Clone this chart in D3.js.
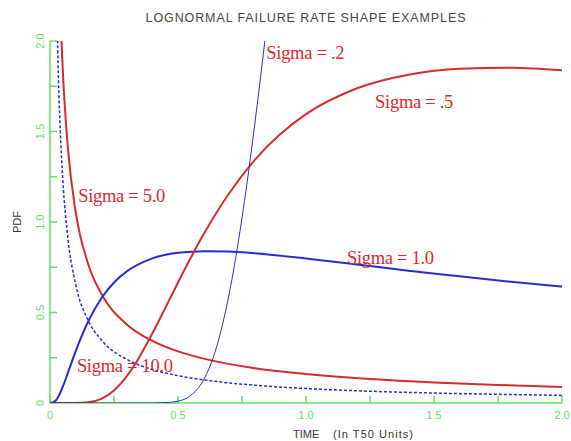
<!DOCTYPE html>
<html>
<head>
<meta charset="utf-8">
<script src="https://cdn.jsdelivr.net/npm/d3@7"></script>
<style>
  body { margin: 0; background: #fff; }
</style>
</head>
<body>
<svg id="chart"></svg>
<script>
// hazard values, T50 = 1
const sig02 = [[0, 0], [0.4, 0], [0.45, 0.002], [0.5, 0.01], [0.55, 0.042], [0.6, 0.128], [0.65, 0.306],
  [0.7, 0.604], [0.75, 1.022], [0.77, 1.219], [0.8, 1.542], [0.825, 1.829], [0.84, 2.009], [0.85, 2.131]];
const sig05 = [[0, 0], [0.1, 0], [0.15, 0.004], [0.2, 0.023], [0.25, 0.069], [0.3, 0.148], [0.35, 0.256],
  [0.4, 0.385], [0.45, 0.524], [0.5, 0.666], [0.6, 0.932], [0.7, 1.159], [0.8, 1.343], [0.9, 1.486],
  [1.0, 1.596], [1.2, 1.739], [1.4, 1.814], [1.6, 1.847], [1.8, 1.852], [2.0, 1.838]];
const sig1 = [[0, 0], [0.02, 0.01], [0.05, 0.09], [0.075, 0.187], [0.1, 0.285], [0.15, 0.453], [0.2, 0.577],
  [0.25, 0.666], [0.3, 0.727], [0.4, 0.799], [0.5, 0.830], [0.6, 0.839], [0.7, 0.837], [0.8, 0.827],
  [1.0, 0.798], [1.2, 0.765], [1.4, 0.731], [1.6, 0.700], [1.8, 0.670], [2.0, 0.643]];
const sig5 = [[0.02, 3.75], [0.03, 2.742], [0.04, 2.191], [0.05, 1.838], [0.07, 1.408], [0.1, 1.059],
  [0.15, 0.764], [0.2, 0.605], [0.3, 0.434], [0.4, 0.343], [0.5, 0.285], [0.6, 0.245], [0.8, 0.192],
  [1.0, 0.160], [1.25, 0.132], [1.5, 0.113], [1.75, 0.100], [2.0, 0.089]];
const sig10 = [[0.02, 2.833], [0.03, 1.963], [0.04, 1.512], [0.05, 1.235], [0.07, 0.910], [0.1, 0.657],
  [0.15, 0.454], [0.2, 0.349], [0.3, 0.241], [0.4, 0.185], [0.5, 0.151], [0.6, 0.128], [0.8, 0.098],
  [1.0, 0.080], [1.25, 0.065], [1.5, 0.055], [1.75, 0.048], [2.0, 0.042]];

const xTicks = [0, 0.5, 1.0, 1.5, 2.0];
const yTicks = [0, 0.5, 1.0, 1.5, 2.0];
const minorTicks = [0.25, 0.75, 1.25, 1.75];

const labels = [
  { text: "Sigma = .2", x: 0.845, y: 1.90 },
  { text: "Sigma = .5", x: 1.27, y: 1.63 },
  { text: "Sigma = 5.0", x: 0.11, y: 1.11 },
  { text: "Sigma = 1.0", x: 1.16, y: 0.77 },
  { text: "Sigma = 10.0", x: 0.105, y: 0.17 }
];

const width = 571, height = 441;
const margin = { left: 50, right: 8, top: 41, bottom: 38 };
const red = "#d62b2b", blue = "#2a2ad2", green = "#5fe25f";

const svg = d3.select("#chart").attr("width", width).attr("height", height);

const x = d3.scaleLinear().domain([0, 2]).range([margin.left, width - margin.right - 1]);
const y = d3.scaleLinear().domain([0, 2]).range([height - margin.bottom, margin.top]);

svg.append("text")
  .attr("x", 306).attr("y", 22)
  .attr("text-anchor", "middle")
  .style("font-family", "Liberation Sans, Arial, sans-serif")
  .style("font-size", "12.5px")
  .style("letter-spacing", "0.9px")
  .style("fill", "#444")
  .text("LOGNORMAL FAILURE RATE SHAPE EXAMPLES");

svg.append("defs").append("clipPath").attr("id", "plot")
  .append("rect")
  .attr("x", x(0)).attr("y", y(2))
  .attr("width", x(2) - x(0)).attr("height", y(0) - y(2));

// axes
const ax = svg.append("g").attr("stroke", green).attr("stroke-width", 1.5);
ax.append("line").attr("x1", x(0)).attr("x2", x(0)).attr("y1", y(0)).attr("y2", y(2));
ax.append("line").attr("x1", x(0)).attr("x2", x(2)).attr("y1", y(0)).attr("y2", y(0));
xTicks.concat(minorTicks).forEach(t => {
  ax.append("line").attr("x1", x(t)).attr("x2", x(t)).attr("y1", y(0)).attr("y2", y(0) - 7);
});
yTicks.concat(minorTicks).forEach(t => {
  ax.append("line").attr("x1", x(0)).attr("x2", x(0) + 7).attr("y1", y(t)).attr("y2", y(t));
});

const tickFont = "Liberation Sans, Arial, sans-serif";
svg.append("g").selectAll("text")
  .data(xTicks).join("text")
  .attr("x", d => x(d)).attr("y", y(0) + 16)
  .attr("text-anchor", "middle")
  .style("font-family", tickFont).style("font-size", "11px").style("fill", green)
  .text(d => d === 0 ? "0" : d.toFixed(1));

svg.append("g").selectAll("text")
  .data(yTicks).join("text")
  .attr("transform", d => `translate(${x(0) - 6},${y(d)}) rotate(-90)`)
  .attr("text-anchor", "middle")
  .style("font-family", tickFont).style("font-size", "11px").style("fill", green)
  .text(d => d === 0 ? "0" : d.toFixed(1));

svg.append("text")
  .attr("transform", `translate(21,${(y(0) + y(2)) / 2}) rotate(-90)`)
  .attr("text-anchor", "middle")
  .style("font-family", tickFont).style("font-size", "11px").style("fill", "#333")
  .text("PDF");

svg.append("text")
  .attr("x", 293).attr("y", 438)
  .style("font-family", tickFont).style("font-size", "11px").style("fill", "#333")
  .text("TIME");
svg.append("text")
  .attr("x", 333).attr("y", 438)
  .attr("textLength", 80)
  .style("font-family", tickFont).style("font-size", "11px").style("fill", "#333")
  .text("(In T50 Units)");

// curves
const line = d3.line().x(d => x(d[0])).y(d => y(d[1])).curve(d3.curveMonotoneX);
const g = svg.append("g").attr("clip-path", "url(#plot)").attr("fill", "none");

g.append("path").datum(sig10).attr("d", line)
  .attr("stroke", blue).attr("stroke-width", 1.5).attr("stroke-dasharray", "3,2");
g.append("path").datum(sig5).attr("d", line).attr("stroke", red).attr("stroke-width", 2);
g.append("path").datum(sig1).attr("d", line).attr("stroke", blue).attr("stroke-width", 2);
g.append("path").datum(sig05).attr("d", line).attr("stroke", red).attr("stroke-width", 2);
g.append("path").datum(sig02).attr("d", line).attr("stroke", blue).attr("stroke-width", 1);

svg.append("g").selectAll("text")
  .data(labels).join("text")
  .attr("x", d => x(d.x)).attr("y", d => y(d.y))
  .style("font-family", "Liberation Serif, Times New Roman, serif")
  .style("font-size", "18.5px")
  .style("letter-spacing", "-0.3px")
  .style("fill", red)
  .text(d => d.text);
</script>
</body>
</html>
